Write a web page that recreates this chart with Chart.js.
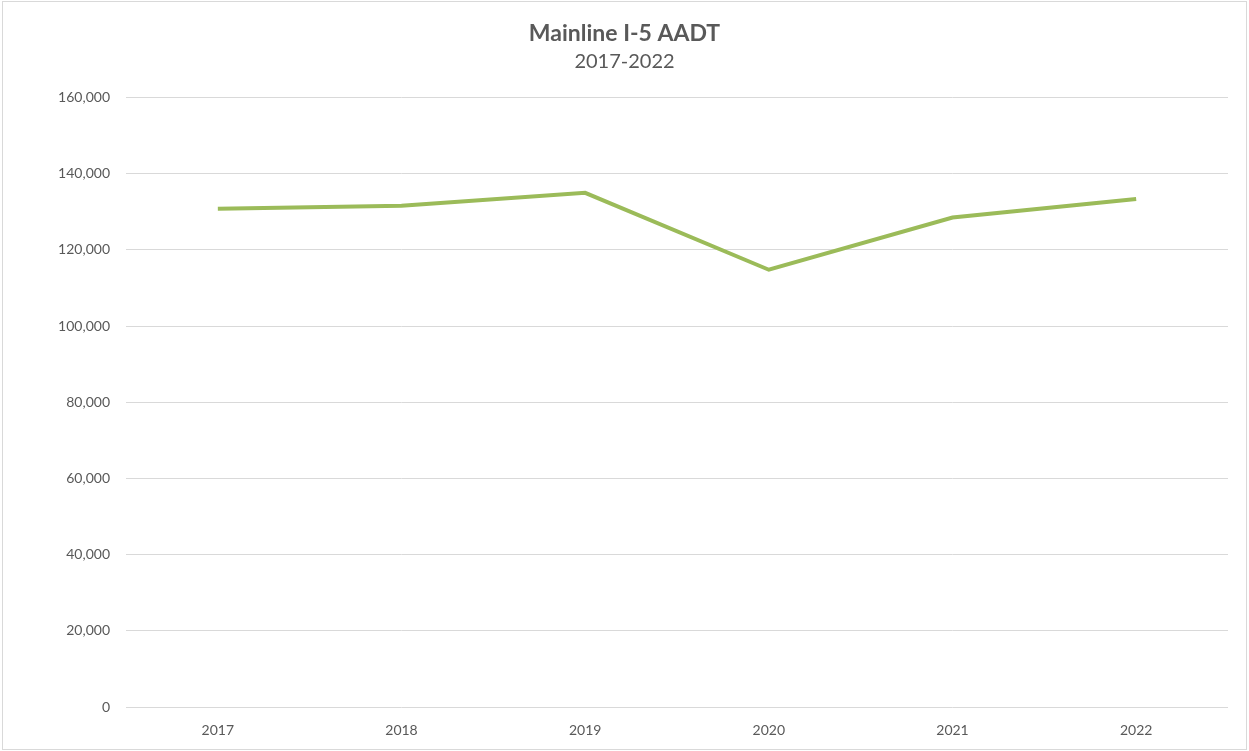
<!DOCTYPE html>
<html>
<head>
<meta charset="utf-8">
<title>Mainline I-5 AADT</title>
<script src="https://cdn.jsdelivr.net/npm/chart.js@4/dist/chart.umd.min.js"></script>
<style>
  html, body { margin: 0; padding: 0; background: #fff; }
  #wrap { width: 1249px; height: 751px; position: relative; }
</style>
</head>
<body>
<div id="wrap"><canvas id="aadtChart"></canvas></div>
<script>
const years = ['2017', '2018', '2019', '2020', '2021', '2022'];
const aadt = [130800, 131600, 135000, 114800, 128500, 133400];

const FONT = 'Lato, "Open Sans", sans-serif';
const TEXT = '#595959';

// white background plus the thin frame round the chart
const frame = {
  id: 'frame',
  beforeDraw(chart) {
    const ctx = chart.ctx;
    ctx.save();
    ctx.fillStyle = '#fff';
    ctx.fillRect(0, 0, chart.width, chart.height);
    ctx.strokeStyle = '#d9d9d9';
    ctx.lineWidth = 1;
    ctx.strokeRect(2.5, 1.5, chart.width - 5, chart.height - 3);
    ctx.restore();
  }
};

const ctx = document.getElementById('aadtChart').getContext('2d');
new Chart(ctx, {
  type: 'line',
  data: {
    labels: years,
    datasets: [{
      label: 'AADT',
      data: aadt,
      borderColor: '#9bbb59',
      borderWidth: 4,
      pointRadius: 0,
      tension: 0,
      fill: false
    }]
  },
  options: {
    responsive: true,
    maintainAspectRatio: false,
    animation: false,
    layout: { padding: 0 },
    plugins: {
      legend: { display: false },
      tooltip: { enabled: false },
      title: {
        display: true,
        text: 'Mainline I-5 AADT',
        color: TEXT,
        font: { family: FONT, size: 23, weight: 'bold', lineHeight: 1.2 },
        padding: { top: 20, bottom: 2 }
      },
      subtitle: {
        display: true,
        text: '2017-2022',
        color: TEXT,
        font: { family: FONT, size: 20, lineHeight: 1.2 },
        padding: { top: 0, bottom: 24 }
      }
    },
    scales: {
      x: {
        offset: true,
        grid: { display: false, drawTicks: false },
        border: { display: false },
        ticks: { color: TEXT, font: { family: FONT, size: 14 }, padding: 15 },
        afterFit(scale) { scale.height = 44; }
      },
      y: {
        min: 0,
        max: 160000,
        grid: { color: '#d9d9d9', lineWidth: 1, drawTicks: false },
        border: { display: false },
        ticks: {
          stepSize: 20000,
          color: TEXT,
          font: { family: FONT, size: 14 },
          padding: 16,
          callback: v => v.toLocaleString('en-US')
        },
        afterFit(scale) { scale.width = 126; }
      },
      // empty right-hand gutter so the titles stay centred on the canvas
      gutter: {
        position: 'right',
        min: 0,
        max: 1,
        grid: { display: false, drawTicks: false },
        border: { display: false },
        ticks: { display: false },
        afterFit(scale) { scale.width = 21; }
      }
    }
  },
  plugins: [frame]
});
</script>
</body>
</html>
